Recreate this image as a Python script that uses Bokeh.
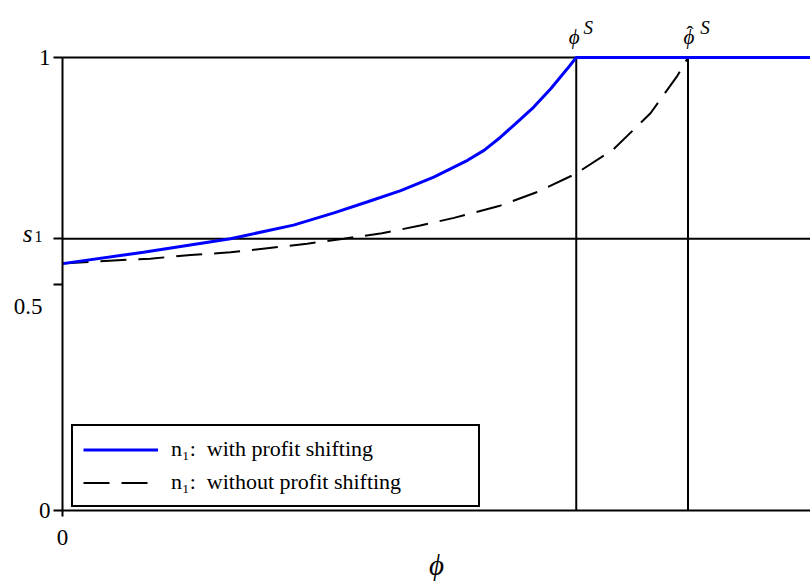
from bokeh.plotting import figure
from bokeh.models import Range1d, FixedTicker, Label, Legend, LegendItem
from bokeh.embed import file_html
from bokeh.resources import INLINE

# ---- data ----
s1 = 0.6
phi_S = 0.685
phi_hat_S = 0.834

blue_x = [0, 0.108, 0.224, 0.308, 0.362, 0.406, 0.451, 0.495, 0.540, 0.562, 0.584,
          0.606, 0.628, 0.651, 0.673, 0.685, 1.0]
blue_y = [0.545, 0.570, 0.600, 0.630, 0.657, 0.681, 0.706, 0.736, 0.773, 0.795, 0.824,
          0.857, 0.890, 0.931, 0.975, 1.0, 1.0]

dash_x = [0, 0.068, 0.117, 0.171, 0.224, 0.273, 0.326, 0.375, 0.426, 0.477, 0.522,
          0.582, 0.633, 0.684, 0.735, 0.784, 0.820, 0.834, 1.0]
dash_y = [0.545, 0.552, 0.556, 0.564, 0.570, 0.579, 0.589, 0.600, 0.612, 0.629, 0.646,
          0.672, 0.703, 0.743, 0.798, 0.877, 0.960, 1.0, 1.0]

x_ticks = [0, 1]
y_ticks = [0, 0.5, s1, 1]
legend_labels = ["n\u2081:  with profit shifting", "n\u2081:  without profit shifting"]

FONT = "Liberation Serif"

# ---- layout: the frame fills the canvas; axes are pinned at data 0 ----
W, H = 810, 582
X0_PX, XSCALE = 62.0, 750.0     # pixel of x=0, pixels per unit x
Y0_PX, YSCALE = 510.0, 453.0    # pixel of y=0, pixels per unit y
x_range = Range1d(-X0_PX / XSCALE, (W - X0_PX) / XSCALE)
y_range = Range1d((Y0_PX - H) / YSCALE, Y0_PX / YSCALE)

p = figure(width=W, height=H, output_backend="svg", toolbar_location=None,
           x_range=x_range, y_range=y_range, min_border=0)
p.outline_line_color = None
p.xgrid.visible = False
p.ygrid.visible = False
p.background_fill_color = "white"

for ax in (p.xaxis[0], p.yaxis[0]):
    ax.fixed_location = 0
    ax.bounds = (0, 1)
    ax.axis_line_width = 2
    ax.major_tick_line_width = 2
    ax.minor_tick_line_color = None
    ax.major_tick_in = 0
    ax.major_label_text_font = FONT
    ax.major_label_text_font_size = "23px"
    ax.major_label_text_color = "black"
    ax.axis_line_color = "black"
    ax.major_tick_line_color = "black"

p.xaxis.ticker = FixedTicker(ticks=x_ticks)
p.xaxis.major_tick_out = 6
p.xaxis.major_label_standoff = 13
p.xaxis.major_label_overrides = {0: "0", 1: "1"}

p.yaxis.ticker = FixedTicker(ticks=y_ticks)
p.yaxis.major_tick_out = 9
p.yaxis.major_label_standoff = 3
p.yaxis.major_label_overrides = {0: "0", 0.5: "", s1: "", 1: "1"}

# reference lines
p.line([0, 1], [1, 1], line_color="black", line_width=2)
p.line([0, 1], [s1, s1], line_color="black", line_width=2)
p.line([phi_S, phi_S], [0, 1], line_color="black", line_width=2)
p.line([phi_hat_S, phi_hat_S], [0, 1], line_color="black", line_width=2)

r_dash = p.line(dash_x, dash_y, line_color="black", line_width=2, line_dash="26 12")
r_blue = p.line(blue_x, blue_y, line_color="#0000ff", line_width=3)

legend = Legend(items=[LegendItem(label=legend_labels[0], renderers=[r_blue]),
                       LegendItem(label=legend_labels[1], renderers=[r_dash])],
                location=(71, 75), glyph_width=75, glyph_height=25, label_height=25,
                label_width=297, label_standoff=13, padding=10, spacing=7, margin=0,
                label_text_font=FONT, label_text_font_size="22px",
                label_text_color="black",
                border_line_color="black", border_line_width=2, border_line_alpha=1,
                background_fill_color="white", background_fill_alpha=1)
p.add_layout(legend, "center")

def lab(x, y, text, dx, dy, size, style="normal", align="center"):
    p.add_layout(Label(x=x, y=y, x_offset=dx, y_offset=dy, text=text,
                       text_font=FONT, text_font_size=size, text_font_style=style,
                       text_align=align, text_baseline="alphabetic", text_color="black"))

lab(0, 0.5, "0.5", -20, -22, "23px", align="right")
lab(0, s1, "s", -35, 5, "25px", style="italic")
lab(0, s1, "1", -24, 2, "16px")
lab(phi_S, 1, "\u03d5", -2, 21, "21px", style="italic")
lab(phi_S, 1, "S", 12, 30, "19px", style="italic")
lab(phi_hat_S, 1, "\u03d5", 1, 21, "21px", style="italic")
lab(phi_hat_S, 1, "\u02c6", 2, 24, "22px")
lab(phi_hat_S, 1, "S", 17, 30, "19px", style="italic")
lab(0.5, 0, "\u03d5", -1, -54, "29px", style="italic")

open("out.html", "w").write(file_html(p, INLINE))
